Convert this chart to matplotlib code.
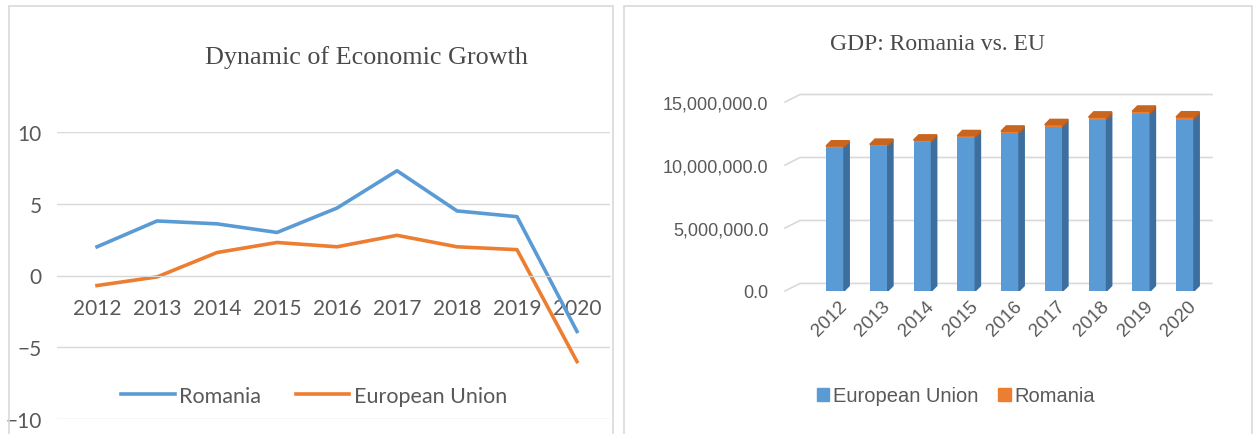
import numpy as np
import matplotlib.pyplot as plt
import matplotlib.transforms as mtransforms
from matplotlib.patches import Rectangle, Polygon, Patch
from matplotlib.ticker import FuncFormatter

years = ['2012', '2013', '2014', '2015', '2016', '2017', '2018', '2019', '2020']
growth_romania = [2.0, 3.8, 3.6, 3.0, 4.7, 7.3, 4.5, 4.1, -3.9]
growth_eu = [-0.7, -0.1, 1.6, 2.3, 2.0, 2.8, 2.0, 1.8, -6.0]

gdp_eu = [11380000, 11500000, 11830000, 12170000, 12520000, 13020000, 13600000, 14050000, 13600000]
gdp_romania = [133200, 144300, 150800, 160300, 170400, 187800, 206600, 223300, 218200]

BLUE = '#5B9BD5'
ORANGE = '#ED7D31'
GRID = '#D9D9D9'
TXT = '#595959'

W, H = 1253.0, 435.0
fig = plt.figure(figsize=(12.53, 4.35), dpi=100)

# panel frames
fig.add_artist(Rectangle((9 / W, -0.01), (613 - 9) / W, (435 - 7) / H + 0.01,
                         transform=fig.transFigure, fill=False, ec=GRID, lw=1.2))
fig.add_artist(Rectangle((624 / W, -0.01), (1252 - 624) / W, (435 - 7) / H + 0.01,
                         transform=fig.transFigure, fill=False, ec=GRID, lw=1.2))

# ---------------- left: line chart ----------------
ax = fig.add_axes([57 / W, (435 - 420) / H, (610 - 57) / W, (420 - 133) / H])
x = np.arange(len(years))
l1, = ax.plot(x, growth_romania, color=BLUE, lw=2.6, label='Romania', solid_joinstyle='round')
l2, = ax.plot(x, growth_eu, color=ORANGE, lw=2.6, label='European Union', solid_joinstyle='round')
ax.set_ylim(-10, 10)
ax.set_xlim(-0.667, 8.55)
ax.set_yticks([-10, -5, 0, 5, 10])
ax.set_xticks(x)
ax.set_xticklabels(years)
ax.grid(axis='y', color=GRID, lw=1)
ax.set_axisbelow(True)
for s in ['top', 'right', 'left']:
    ax.spines[s].set_visible(False)
ax.spines['bottom'].set_position(('data', 0))
ax.spines['bottom'].set_color(GRID)
ax.tick_params(axis='both', length=0, colors=TXT, labelsize=15)
ax.tick_params(axis='x', pad=16)
ax.tick_params(axis='y', pad=11)
for lab in ax.get_xticklabels() + ax.get_yticklabels():
    lab.set_family('Lato')
fig.text(366 / W, 1 - 58 / H, 'Dynamic of Economic Growth', family='Liberation Serif',
         fontsize=18.8, color='#4a4a4a', ha='center', va='center')
fig.legend(handles=[l1, l2], loc='center', bbox_to_anchor=(314 / W, 1 - 397 / H),
           ncol=2, frameon=False, prop={'family': 'Lato', 'size': 15.5}, labelcolor=TXT,
           handlelength=2.5, handletextpad=0.2, columnspacing=1.6)

# ---------------- right: pseudo 3D stacked columns ----------------
ax2 = fig.add_axes([785 / W, (435 - 292) / H, (1212 - 785) / W, 199 / H])
ax2.set_xlim(-1.143, 8.617)
ax2.set_ylim(0, 15800000)
bw = 0.41
dx, dy = 0.12, 420000
gx, gy = 0.343, 600000

# back wall gridlines with floor diagonal
xl, xr = ax2.get_xlim()
for v in [0, 5000000, 10000000, 15000000]:
    ax2.plot([xl, xl + gx, xr], [v, v + gy, v + gy], color=GRID, lw=1.2, zorder=0, clip_on=False)

eu = np.array(gdp_eu)
ro = np.array(gdp_romania)
ax2.bar(x, eu, width=bw, color=BLUE, zorder=2)
ax2.bar(x, ro, width=bw, bottom=eu, color=ORANGE, zorder=2)
for i in range(len(years)):
    xr_ = x[i] + bw / 2
    top = eu[i] + ro[i]
    ax2.add_patch(Polygon([(xr_, 0), (xr_ + dx, dy), (xr_ + dx, eu[i] + dy), (xr_, eu[i])],
                          closed=True, color='#3C6E9E', zorder=2))
    ax2.add_patch(Polygon([(xr_, eu[i]), (xr_ + dx, eu[i] + dy), (xr_ + dx, top + dy), (xr_, top)],
                          closed=True, color='#B85A1C', zorder=2))
    ax2.add_patch(Polygon([(x[i] - bw / 2, top), (x[i] - bw / 2 + dx, top + dy),
                           (xr_ + dx, top + dy), (xr_, top)],
                          closed=True, color='#C8651F', zorder=2))

ax2.set_xticks(x)
ax2.set_xticklabels(years, rotation=45, ha='right', va='center', rotation_mode='anchor')
ax2.set_yticks([0, 5000000, 10000000, 15000000])
ax2.yaxis.set_major_formatter(FuncFormatter(lambda v, p: f'{v:,.1f}'))
for s in ['top', 'right', 'left', 'bottom']:
    ax2.spines[s].set_visible(False)
ax2.tick_params(axis='both', length=0, colors=TXT, labelsize=13)
ax2.tick_params(axis='y', pad=12)
ax2.tick_params(axis='x', pad=9)
shift = mtransforms.ScaledTranslation(9 / 100, 0, fig.dpi_scale_trans)
for lab in ax2.get_xticklabels():
    lab.set_family('Liberation Sans')
    lab.set_fontsize(13.5)
    lab.set_transform(lab.get_transform() + shift)
for lab in ax2.get_yticklabels():
    lab.set_family('Liberation Sans')
fig.text(937 / W, 1 - 45 / H, 'GDP: Romania vs. EU', family='Liberation Serif',
         fontsize=17, color='#4a4a4a', ha='center', va='center')
handles = [Patch(color=BLUE, label='European Union'), Patch(color=ORANGE, label='Romania')]
fig.legend(handles=handles, loc='center', bbox_to_anchor=(956 / W, 1 - 397 / H),
           ncol=2, frameon=False, prop={'family': 'Liberation Sans', 'size': 14.5}, labelcolor=TXT,
           handlelength=0.6, handleheight=0.6, handletextpad=0.2, columnspacing=1.0)

fig.savefig('out.png', dpi=100)
